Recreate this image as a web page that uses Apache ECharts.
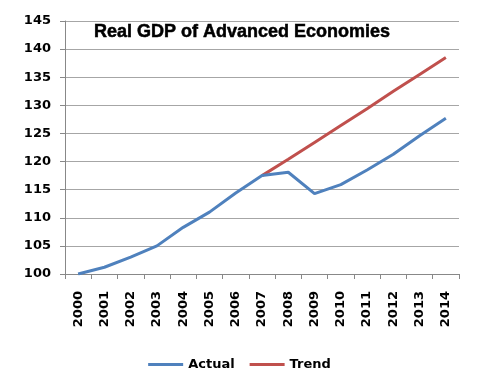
<!DOCTYPE html>
<html><head><meta charset="utf-8">
<script src="https://cdn.jsdelivr.net/npm/echarts@6/dist/echarts.min.js"></script>
<style>html,body{margin:0;padding:0;background:#fff}#c{width:479px;height:392px}</style>
</head><body><div id="c"></div>
<script>
const years = ['2000','2001','2002','2003','2004','2005','2006','2007','2008','2009','2010','2011','2012','2013','2014'];
const actual = [100, 101.2, 103.0, 105.0, 108.3, 111.0, 114.4, 117.5, 118.1, 114.3, 115.9, 118.5, 121.3, 124.6, 127.7];
const trend = [null, null, null, null, null, null, null, 117.5, 120.4, 123.4, 126.4, 129.4, 132.5, 135.5, 138.5];
const yTicks = {min: 100, max: 145, step: 5};
const titleText = 'Real GDP of Advanced Economies';

const chart = echarts.init(document.getElementById('c'), null, {renderer: 'canvas'});
const F = 'DejaVu Sans';
chart.setOption({
  animation: false,
  backgroundColor: '#fff',
  title: {text: titleText, left: 89, top: 18, textStyle: {fontFamily: 'Liberation Sans', fontWeight: 'bold', fontSize: 18, color: '#000', textBorderColor: '#000', textBorderWidth: 0.5}},
  grid: {left: 65, right: 20, top: 21, bottom: 118},
  legend: {
    bottom: 16, left: 'center', icon: 'rect', itemWidth: 35, itemHeight: 3, itemGap: 15,
    textStyle: {fontFamily: F, fontWeight: 'bold', fontSize: 13, color: '#000'},
    data: ['Actual', 'Trend']
  },
  xAxis: {
    type: 'category', data: years, boundaryGap: true,
    axisLine: {lineStyle: {color: '#888', width: 1}},
    axisTick: {show: true, length: 5, lineStyle: {color: '#888'}},
    axisLabel: {rotate: 90, margin: 17, fontFamily: F, fontWeight: 'bold', fontSize: 13, color: '#000', interval: 0}
  },
  yAxis: {
    type: 'value', min: yTicks.min, max: yTicks.max, interval: yTicks.step,
    axisLine: {show: true, lineStyle: {color: '#888', width: 1}},
    axisTick: {show: true, length: 5, lineStyle: {color: '#888'}},
    splitLine: {lineStyle: {color: '#a6a6a6', width: 1}},
    axisLabel: {margin: 14, fontFamily: F, fontWeight: 'bold', fontSize: 13, color: '#000'}
  },
  series: [
    {name: 'Actual', type: 'line', data: actual, showSymbol: false, symbol: 'none', lineStyle: {color: '#4F81BD', width: 3}, itemStyle: {color: '#4F81BD'}},
    {name: 'Trend', type: 'line', data: trend, showSymbol: false, symbol: 'none', lineStyle: {color: '#C0504D', width: 3}, itemStyle: {color: '#C0504D'}, z: 1}
  ]
});
</script></body></html>
